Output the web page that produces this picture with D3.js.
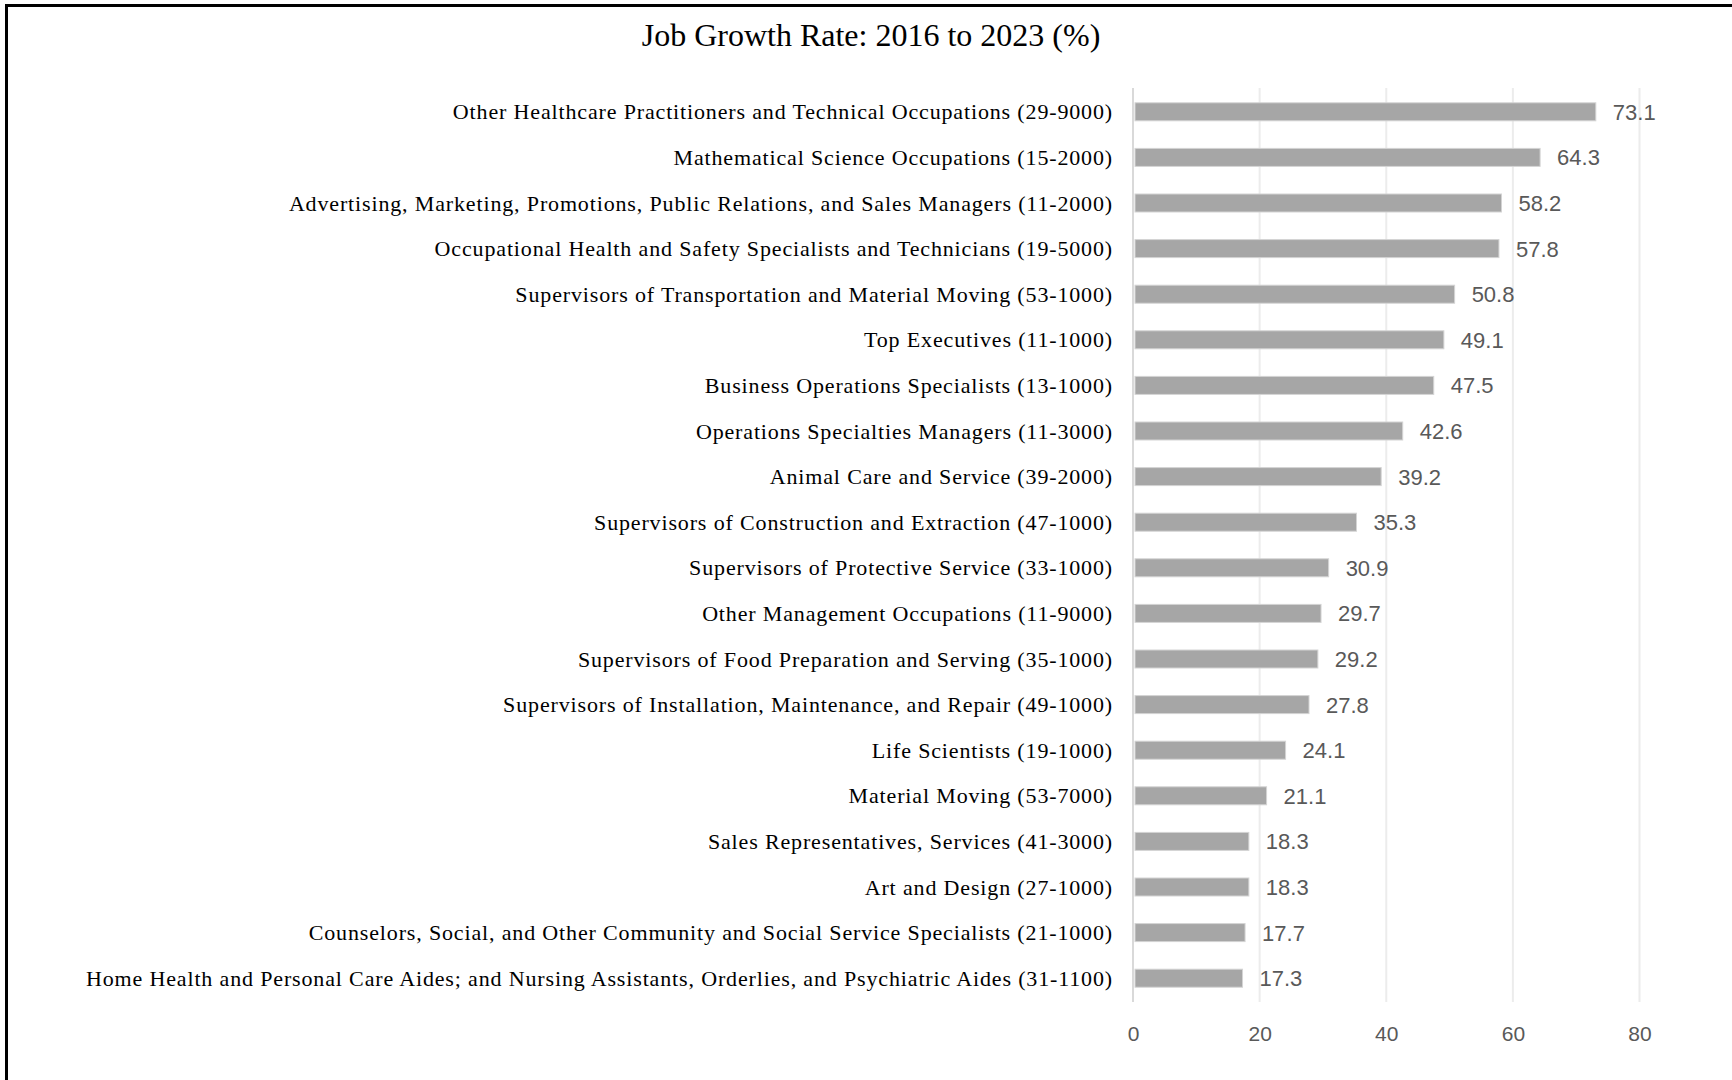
<!DOCTYPE html>
<html>
<head>
<meta charset="utf-8">
<script src="https://cdn.jsdelivr.net/npm/d3@7"></script>
<style>
  html, body { margin: 0; padding: 0; background: #fff; }
  svg { display: block; }
</style>
</head>
<body>
<svg id="chart" width="1732" height="1080"></svg>
<script>
const title = "Job Growth Rate: 2016 to 2023 (%)";
const categories = [
  "Other Healthcare Practitioners and Technical Occupations (29-9000)",
  "Mathematical Science Occupations (15-2000)",
  "Advertising, Marketing, Promotions, Public Relations, and Sales Managers (11-2000)",
  "Occupational Health and Safety Specialists and Technicians (19-5000)",
  "Supervisors of Transportation and Material Moving (53-1000)",
  "Top Executives (11-1000)",
  "Business Operations Specialists (13-1000)",
  "Operations Specialties Managers (11-3000)",
  "Animal Care and Service (39-2000)",
  "Supervisors of Construction and Extraction (47-1000)",
  "Supervisors of Protective Service (33-1000)",
  "Other Management Occupations (11-9000)",
  "Supervisors of Food Preparation and Serving (35-1000)",
  "Supervisors of Installation, Maintenance, and Repair (49-1000)",
  "Life Scientists (19-1000)",
  "Material Moving (53-7000)",
  "Sales Representatives, Services (41-3000)",
  "Art and Design (27-1000)",
  "Counselors, Social, and Other Community and Social Service Specialists (21-1000)",
  "Home Health and Personal Care Aides; and Nursing Assistants, Orderlies, and Psychiatric Aides (31-1100)"
];
const growthValues = [73.1, 64.3, 58.2, 57.8, 50.8, 49.1, 47.5, 42.6, 39.2, 35.3,
                      30.9, 29.7, 29.2, 27.8, 24.1, 21.1, 18.3, 18.3, 17.7, 17.3];
const xTicks = [0, 20, 40, 60, 80];

const svg = d3.select("#chart");

// frame lines (left and top)
svg.append("line").attr("x1", 6.5).attr("x2", 6.5).attr("y1", 4).attr("y2", 1080)
  .attr("stroke", "#000").attr("stroke-width", 3);
svg.append("line").attr("x1", 5).attr("x2", 1732).attr("y1", 5.5).attr("y2", 5.5)
  .attr("stroke", "#000").attr("stroke-width", 3);

const x = d3.scaleLinear().domain([0, 80]).range([1133, 1639.5]);
const y = d3.scaleBand().domain(categories).range([89, 1001]).paddingInner(0.605).paddingOuter(0.3025);

// title
svg.append("text")
  .attr("x", 871).attr("y", 46)
  .attr("text-anchor", "middle")
  .style("font-family", "'Liberation Serif', 'Times New Roman', serif")
  .style("font-size", "32px")
  .attr("fill", "#000")
  .text(title);

// gridlines
svg.append("g").selectAll("line")
  .data(xTicks.filter(d => d !== 0))
  .join("line")
  .attr("x1", d => x(d)).attr("x2", d => x(d))
  .attr("y1", 88).attr("y2", 1002)
  .attr("stroke", "#ececec").attr("stroke-width", 2);

// bars
svg.append("g").selectAll("rect")
  .data(categories)
  .join("rect")
  .attr("x", x(0) + 2)
  .attr("y", d => y(d))
  .attr("width", (d, i) => x(growthValues[i]) - x(0) - 2)
  .attr("height", y.bandwidth())
  .attr("fill", "#a6a6a6")
  .attr("stroke", "#d4d4d4")
  .attr("stroke-width", 1);

// zero axis line
svg.append("line")
  .attr("x1", x(0)).attr("x2", x(0))
  .attr("y1", 88).attr("y2", 1002)
  .attr("stroke", "#d9d9d9").attr("stroke-width", 2);

// value labels
svg.append("g").selectAll("text")
  .data(categories)
  .join("text")
  .attr("x", (d, i) => x(growthValues[i]) + 17)
  .attr("y", d => y(d) + y.bandwidth() / 2 + 0.5)
  .attr("dominant-baseline", "central")
  .style("font-family", "'Liberation Sans', Arial, sans-serif")
  .style("font-size", "22px")
  .attr("fill", "#595959")
  .text((d, i) => growthValues[i].toFixed(1));

// category labels
svg.append("g").selectAll("text")
  .data(categories)
  .join("text")
  .attr("x", 1113)
  .attr("y", d => y(d) + y.bandwidth() / 2)
  .attr("text-anchor", "end")
  .attr("dominant-baseline", "central")
  .style("font-family", "'Liberation Serif', 'Times New Roman', serif")
  .style("font-size", "22px")
  .style("letter-spacing", "0.85px")
  .attr("fill", "#000")
  .text(d => d);

// x tick labels
const xAxis = d3.axisBottom(x).tickValues(xTicks).tickSize(0).tickPadding(0);
const gx = svg.append("g").attr("transform", "translate(0,1020)").call(xAxis);
gx.select(".domain").remove();
gx.selectAll("text")
  .attr("dy", null)
  .attr("y", 13)
  .attr("dominant-baseline", "central")
  .style("font-family", "'Liberation Sans', Arial, sans-serif")
  .style("font-size", "21px")
  .attr("fill", "#595959");
</script>
</body>
</html>
